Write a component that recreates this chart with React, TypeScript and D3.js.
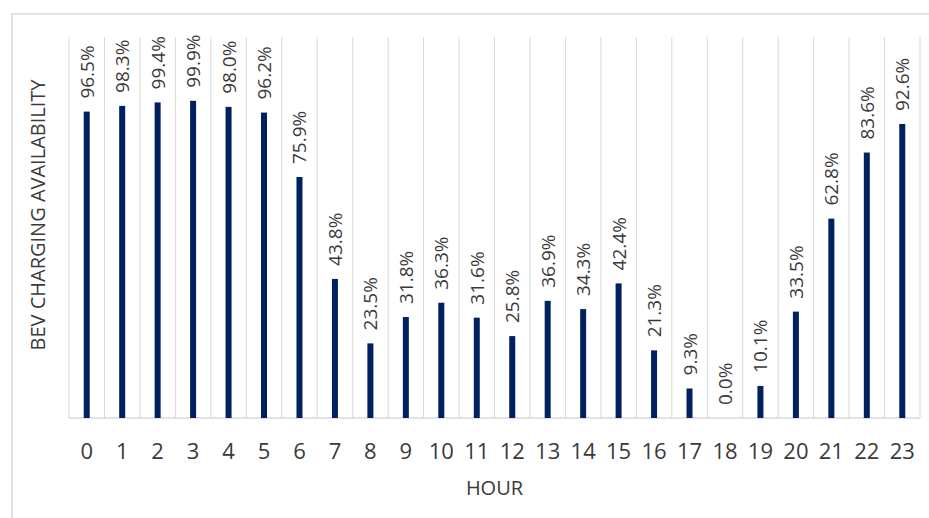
import React from "react";
import * as d3 from "d3";

const hours = ["0","1","2","3","4","5","6","7","8","9","10","11","12","13","14","15","16","17","18","19","20","21","22","23"];
const availability = [96.5, 98.3, 99.4, 99.9, 98.0, 96.2, 75.9, 43.8, 23.5, 31.8, 36.3, 31.6, 25.8, 36.9, 34.3, 42.4, 21.3, 9.3, 0.0, 10.1, 33.5, 62.8, 83.6, 92.6];
const xTitle = "HOUR";
const yTitle = "BEV CHARGING AVAILABILITY";

const W = 929, H = 518;
const plot = { left: 69, right: 920, top: 37, bottom: 418 };
const font = "'Open Sans', 'Segoe UI', sans-serif";
const textColor = "#3a3a3a";
const gridColor = "#d9d9d9";
const barColor = "#002060";

export default function App() {
  const x = d3.scaleBand<string>().domain(hours).range([plot.left, plot.right]).padding(0);
  const y = d3.scaleLinear().domain([0, 120]).range([plot.bottom, plot.top]);
  const barW = 6;
  const bounds = hours.map((h) => x(h)!).concat([plot.right]);

  return (
    <div style={{ position: "absolute", left: 0, top: 0 }}>
      <svg width={W} height={H} style={{ display: "block", background: "#fff" }}>
        <rect x={12} y={14} width={W} height={H} fill="#fff" stroke={gridColor} strokeWidth={1.5} />
        {bounds.map((bx, i) => (
          <line key={"g" + i} x1={bx} x2={bx} y1={plot.top} y2={plot.bottom} stroke={gridColor} strokeWidth={1} />
        ))}
        <line x1={plot.left} x2={plot.right} y1={plot.bottom} y2={plot.bottom} stroke={gridColor} strokeWidth={1.5} />
        {hours.map((h, i) => {
          const cx = x(h)! + x.bandwidth() / 2;
          const v = availability[i];
          const top = y(v);
          return (
            <g key={h}>
              {v > 0 && <rect x={cx - barW / 2} y={top} width={barW} height={plot.bottom - top} fill={barColor} />}
              <text
                transform={`translate(${cx},${top - 13}) rotate(-90)`}
                textAnchor="start"
                dominantBaseline="central"
                fontFamily={font}
                fontSize={19}
                fill={textColor}
              >
                {v.toFixed(1) + "%"}
              </text>
              <text x={cx} y={459} textAnchor="middle" fontFamily={font} fontSize={22} fill={textColor}>
                {h}
              </text>
            </g>
          );
        })}
        <text x={(plot.left + plot.right) / 2} y={495} textAnchor="middle" fontFamily={font} fontSize={20} fill={textColor}>
          {xTitle}
        </text>
        <text
          transform={`translate(45,215) rotate(-90)`}
          textAnchor="middle"
          fontFamily={font}
          fontSize={20}
          fill={textColor}
        >
          {yTitle}
        </text>
      </svg>
    </div>
  );
}
